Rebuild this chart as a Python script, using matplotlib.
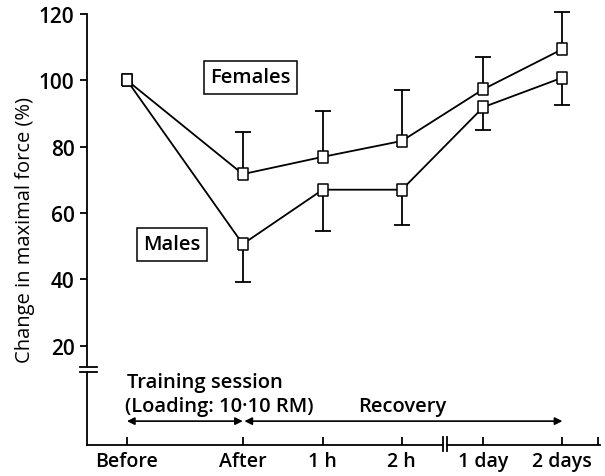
import matplotlib
matplotlib.use("Agg")
import matplotlib.pyplot as plt
import numpy as np

# time points and their positions on the (broken) x axis
times = ['Before', 'After', '1 h', '2 h', '1 day', '2 days']
x_pos = [0.0, 1.45, 2.45, 3.44, 4.46, 5.45]

# change in maximal force (%) and error bars (females up, males down)
females = [100, 71.7, 76.9, 81.7, 97.3, 109.4]
females_err = [0, 12.8, 13.7, 15.4, 9.7, 11.2]
males = [100, 50.6, 67.0, 67.0, 91.9, 100.8]
males_err = [0, 11.4, 12.4, 10.5, 6.9, 8.3]

yticks = [20, 40, 60, 80, 100, 120]

plt.rcParams['font.family'] = ['Open Sans', 'DejaVu Sans']
plt.rcParams['font.weight'] = 'semibold'

fig = plt.figure(figsize=(6.05, 4.77), dpi=100)
ax = fig.add_axes([0.1438, 0.065, 0.8479, 0.9036])

lw = 1.3
fs = 14.5
ax.set_xlim(-0.5, 5.92)
ax.set_ylim(-10.0, 120)

# error bars
cap = 0.1
for x, m, e in zip(x_pos, females, females_err):
    if e > 0:
        ax.vlines(x, m, m + e, color='black', lw=lw, zorder=2, clip_on=False)
        ax.hlines(m + e, x - cap, x + cap, color='black', lw=lw, zorder=2, clip_on=False)
for x, m, e in zip(x_pos, males, males_err):
    if e > 0:
        ax.vlines(x, m - e, m, color='black', lw=lw, zorder=2, clip_on=False)
        ax.hlines(m - e, x - cap, x + cap, color='black', lw=lw, zorder=2, clip_on=False)

# open rectangle markers, a bit taller than wide
rect = [(-0.75, -1), (0.75, -1), (0.75, 1), (-0.75, 1), (-0.75, -1)]
for series in (females, males):
    ax.plot(x_pos, series, color='black', lw=lw, marker=rect, markersize=9,
            markerfacecolor='white', markeredgecolor='black', markeredgewidth=1.1,
            zorder=3, clip_on=False)

# group labels in boxes
box = dict(boxstyle='square,pad=0.32', fc='white', ec='black', lw=1.1)
ax.text(1.55, 100.9, 'Females', fontsize=fs, ha='center', va='center', bbox=box)
ax.text(0.56, 50.5, 'Males', fontsize=fs, ha='center', va='center', bbox=box)

# training / recovery annotation
ax.text(0.0, 9.0, 'Training session', fontsize=fs, ha='left', va='center')
ax.text(-0.02, 1.8, '(Loading: 10\u00b710 RM)', fontsize=fs, ha='left', va='center')
ax.text(2.89, 1.8, 'Recovery', fontsize=fs, ha='left', va='center')
arr = dict(arrowstyle='<|-|>', color='black', lw=1.2, mutation_scale=11,
           shrinkA=0, shrinkB=0)
ax.annotate('', xy=(x_pos[1], -2.8), xytext=(x_pos[0], -2.8), arrowprops=arr)
ax.annotate('', xy=(x_pos[5], -2.8), xytext=(x_pos[1] + 0.02, -2.8), arrowprops=arr)

# axes styling with breaks
for s in ('top', 'right'):
    ax.spines[s].set_visible(False)
ax.spines['left'].set_bounds(13.5, 120)
ax.spines['bottom'].set_bounds(-0.5, 3.95)
for s in ('left', 'bottom'):
    ax.spines[s].set_linewidth(lw)

ytr = ax.get_yaxis_transform()
xtr = ax.get_xaxis_transform()
ax.plot([0, 0], [-10.0, 12.0], transform=ytr, color='black', lw=lw, clip_on=False)
for yb in (13.5, 12.0):
    ax.plot([-0.0136, 0.0195], [yb, yb], transform=ytr, color='black', lw=lw, clip_on=False)
ax.plot([4.01, 5.92], [0, 0], transform=xtr, color='black', lw=lw, clip_on=False)
for xb in (3.95, 4.01):
    ax.plot([xb, xb], [-0.014, 0.019], transform=xtr, color='black', lw=lw, clip_on=False)

ax.set_yticks(yticks)
ax.tick_params(axis='y', direction='out', length=5, width=lw, labelsize=15, pad=4)
ax.set_xticks(x_pos + [5.9])
ax.set_xticklabels(times + [''])
ax.tick_params(axis='x', direction='in', length=6, width=lw, labelsize=14, pad=4)
ax.set_ylabel('Change in maximal force (%)', fontsize=14.5, labelpad=3)

fig.savefig('out.png', dpi=100)
